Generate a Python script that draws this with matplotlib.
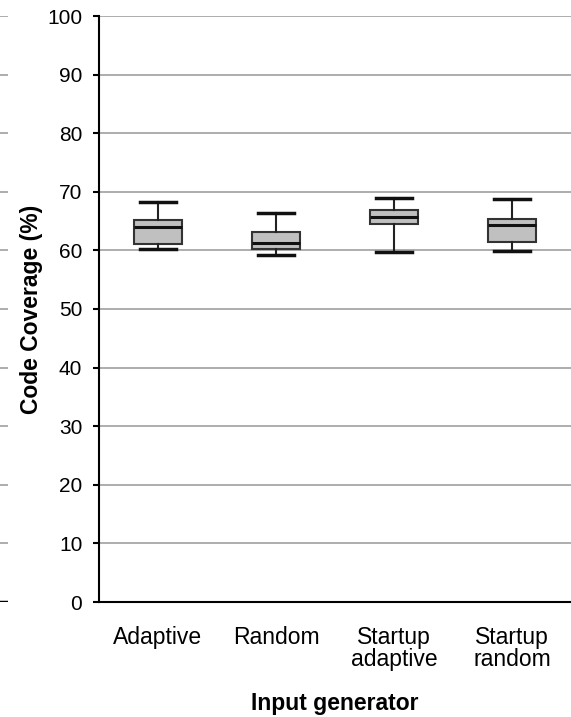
import matplotlib.pyplot as plt

plt.rcParams['font.family'] = ['Liberation Sans', 'DejaVu Sans']

# box plot summary values
generators = ['Adaptive', 'Random', 'Startup\nadaptive', 'Startup\nrandom']
whisker_low = [60.3, 59.3, 59.7, 59.9]
box_low = [61.1, 60.2, 64.45, 61.5]
medians = [64.05, 61.3, 65.75, 64.3]
box_high = [65.2, 63.1, 66.9, 65.4]
whisker_high = [68.3, 66.4, 68.9, 68.7]
yticks = list(range(0, 101, 10))

W, H = 571, 717
fig = plt.figure(figsize=(W / 100, H / 100), dpi=100)

# main axes
left, right, top, bottom = 99, 571, 16, 602
ax = fig.add_axes([left / W, (H - bottom) / H, (right - left) / W, (bottom - top) / H])

stats = []
for i in range(len(generators)):
    stats.append({
        'whislo': whisker_low[i], 'q1': box_low[i], 'med': medians[i],
        'q3': box_high[i], 'whishi': whisker_high[i], 'fliers': [],
    })

positions = [i + 0.5 for i in range(len(generators))]
ax.bxp(stats, positions=positions, widths=0.4, patch_artist=True,
       showfliers=False,
       boxprops=dict(facecolor='#c0c0c0', edgecolor='#333333', linewidth=1.5),
       medianprops=dict(color='#111111', linewidth=2.2),
       whiskerprops=dict(color='#222222', linewidth=1.5),
       capprops=dict(color='#111111', linewidth=2.5),
       capwidths=0.3)

ax.set_xlim(0, 4)
ax.set_ylim(0, 100)
ax.set_yticks(yticks)
ax.set_xticks(positions)
ax.set_xticklabels(generators, linespacing=0.95)
ax.yaxis.grid(True, color='#a0a0a0', linewidth=1.2)
ax.set_axisbelow(True)
ax.spines['top'].set_visible(False)
ax.spines['right'].set_visible(False)
ax.spines['left'].set_linewidth(1.5)
ax.spines['bottom'].set_linewidth(1.5)
ax.tick_params(axis='y', direction='out', length=4, width=1.5, labelsize=15,
               pad=8)
ax.tick_params(axis='x', length=0, labelsize=16.5, pad=17)
ax.set_ylabel('Code Coverage (%)', fontsize=16.5, fontweight='bold', labelpad=3)
ax.set_xlabel('Input generator', fontsize=16.5, fontweight='bold', labelpad=15)

# stub of the neighbouring chart at the left edge
ax2 = fig.add_axes([0, (H - bottom) / H, 8 / W, (bottom - top) / H])
ax2.set_ylim(0, 100)
ax2.set_xlim(0, 1)
for v in yticks[1:]:
    ax2.axhline(v, color='#a0a0a0', linewidth=1.2)
ax2.axhline(0, color='black', linewidth=2.5)
ax2.axis('off')

fig.savefig('out.png', dpi=100)
